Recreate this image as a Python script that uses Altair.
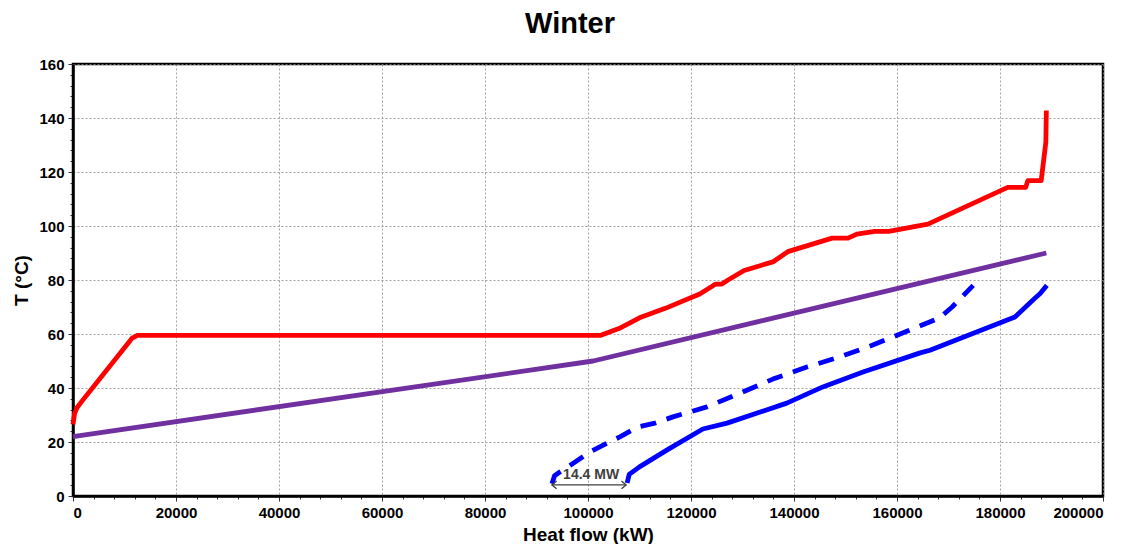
import altair as alt
import pandas as pd

# ---- data ----
red_x = [0, 300, 800, 1900, 11500, 12500, 102500, 106000, 110000, 115000, 121700, 124800,
         126000, 127200, 130300, 133400, 135900, 138800, 147400, 150500, 152200, 155700,
         158400, 166000, 181500, 185000, 185400, 188000, 188900, 189000]
red_y = [26.5, 30.5, 32.8, 35.5, 58.5, 59.5, 59.5, 62.0, 66.0, 69.5, 74.8, 78.5,
         78.5, 80.0, 83.5, 85.3, 86.7, 90.5, 95.5, 95.5, 97.0, 98.0,
         98.0, 100.7, 114.3, 114.3, 116.8, 116.8, 131.0, 142.8]

purple_x = [0, 101000, 189000]
purple_y = [22.0, 50.0, 90.0]

blue_x = [107600, 108000, 110000, 115300, 122300, 127000, 138600, 145600, 153400,
          164500, 166400, 182900, 186400, 187800, 189100]
blue_y = [4.8, 8.0, 10.8, 17.0, 24.8, 27.0, 34.4, 40.4, 45.9,
          53.0, 54.0, 66.3, 72.6, 75.0, 78.0]

dash_x = [93000, 93500, 94600, 97500, 100400, 103700, 106200, 109700, 113000, 116500,
          123100, 129500, 135900, 142500, 148900, 155300, 161900, 168300, 170700, 174800]
dash_y = [4.5, 7.5, 9.0, 12.6, 16.3, 19.6, 21.9, 25.6, 27.0, 29.3,
          33.0, 38.1, 43.3, 47.8, 51.5, 55.9, 61.0, 66.0, 70.0, 78.0]

gap_x = [93000, 107400]
gap_y = [4.1, 4.1]
gap_label = "14.4 MW"
gap_label_x = 100600
gap_label_y = 7.6

x_ticks = list(range(0, 200001, 4000))
y_ticks = list(range(0, 161, 4))

FONT = "Liberation Sans"


def frame(xs, ys):
    return pd.DataFrame({"x": xs, "y": ys, "o": list(range(len(xs)))})


xscale = alt.Scale(domain=[0, 200000], nice=False, zero=False)
yscale = alt.Scale(domain=[0, 160], nice=False, zero=False)

xaxis = alt.Axis(
    values=x_ticks, tickCount=200, format="d", title="Heat flow (kW)",
    labelExpr="datum.value % 20000 === 0 ? datum.label : ''",
    labelOverlap=False,
    tickSize={"condition": {"test": "datum.value % 20000 === 0", "value": 5}, "value": 3},
    gridOpacity={"condition": {"test": "datum.value % 20000 === 0", "value": 1}, "value": 0},
    labelPadding=4, titlePadding=5,
)
yaxis = alt.Axis(
    values=y_ticks, tickCount=200, format="d", title="T (°C)",
    labelExpr="datum.value % 20 === 0 ? datum.label : ''",
    labelOverlap=False,
    tickSize={"condition": {"test": "datum.value % 20 === 0", "value": 5}, "value": 3},
    gridOpacity={"condition": {"test": "datum.value % 20 === 0", "value": 1}, "value": 0},
    labelPadding=4, titlePadding=7,
)


def line(df, color, dash=None):
    kw = dict(color=color, strokeWidth=4.8, strokeJoin="round", strokeCap="butt")
    if dash:
        kw["strokeDash"] = dash
    return alt.Chart(df).mark_line(**kw).encode(
        x=alt.X("x:Q", scale=xscale, axis=xaxis),
        y=alt.Y("y:Q", scale=yscale, axis=yaxis),
        order="o:Q",
    )


red = line(frame(red_x, red_y), "#FF0000")
purple = line(frame(purple_x, purple_y), "#7030A0")
blue = line(frame(blue_x, blue_y), "#0000FF")
dashed = line(frame(dash_x, dash_y), "#0000FF", dash=[16, 11])

gap_df = pd.DataFrame({"x": [gap_x[0]], "x2": [gap_x[1]], "y": [gap_y[0]]})
arrow_line = alt.Chart(gap_df).mark_rule(color="#404040", strokeWidth=1.3).encode(
    x="x:Q", x2="x2:Q", y="y:Q")

heads = pd.DataFrame({"x": gap_x, "y": gap_y,
                      "s": ["M 1.2 -1 L 0 0 L 1.2 1", "M -1.2 -1 L 0 0 L -1.2 1"]})
arrow_heads = alt.Chart(heads).mark_point(
    filled=False, color="#404040", strokeWidth=1.4, size=60, opacity=1
).encode(x="x:Q", y="y:Q", shape=alt.Shape("s:N", scale=None))

label = alt.Chart(pd.DataFrame({"x": [gap_label_x], "y": [gap_label_y], "t": [gap_label]})).mark_text(
    font=FONT, fontSize=14, fontWeight="bold", color="#404040"
).encode(x="x:Q", y="y:Q", text="t:N")

chart = alt.layer(purple, dashed, blue, red, arrow_line, arrow_heads, label).properties(
    width=1030, height=432,
    title=alt.TitleParams("Winter", font=FONT, fontSize=29, fontWeight="bold",
                          color="black", anchor="middle", offset=18, dx=-18),
    autosize=alt.AutoSizeParams(type="none"),
    padding={"left": 65, "top": 56, "right": 20, "bottom": 48},
).configure_view(
    stroke="black", strokeWidth=2.5
).configure_axis(
    labelFont=FONT, labelFontSize=15, labelFontWeight="bold", labelColor="black",
    titleFont=FONT, titleFontSize=19, titleFontWeight="bold", titleColor="black",
    domainColor="black", domainWidth=2.5, tickColor="#333333", tickWidth=1,
    gridColor="#8c8c8c", gridDash=[2, 2], gridWidth=0.8,
)

chart.save("out.html", embed_options={"renderer": "svg", "actions": False})
